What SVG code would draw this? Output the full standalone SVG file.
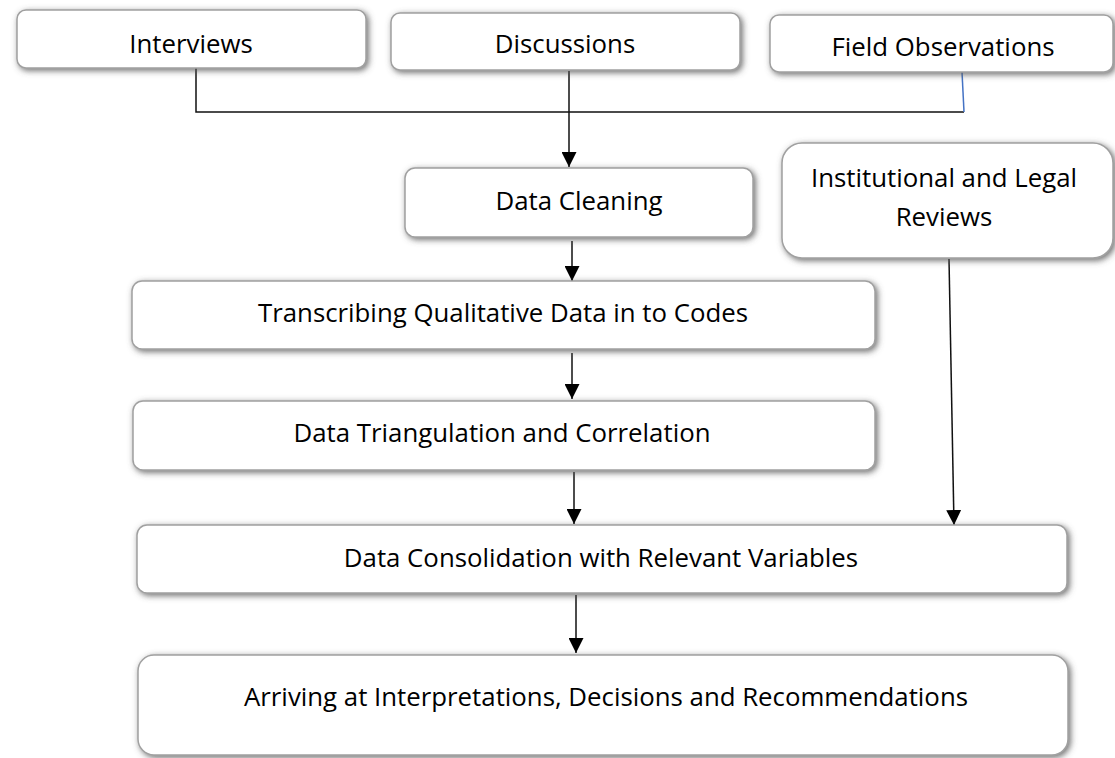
<svg xmlns="http://www.w3.org/2000/svg" width="1115" height="758" viewBox="0 0 1115 758">
<style>
.box{fill:#ffffff;stroke:#a0a0a0;stroke-width:1.5;filter:url(#sh)}
.t{font-family:"Open Sans","Liberation Sans",sans-serif;font-size:25.8px;fill:#000;text-anchor:middle}
.ln{stroke:#111;stroke-width:1.5;fill:none}
</style>
<defs>
<filter id="sh" x="-10%" y="-30%" width="120%" height="160%">
<feDropShadow dx="2" dy="2" stdDeviation="3" flood-color="#555" flood-opacity="0.85"/>
</filter>
<marker id="ah" viewBox="0 0 10 10" refX="10" refY="5" markerWidth="15" markerHeight="15" markerUnits="userSpaceOnUse" orient="auto">
<path d="M0,0 L10,5 L0,10 z" fill="#000"/>
</marker>
</defs>
<rect width="1115" height="758" fill="#fff"/>
<g id="connectors">
<polyline class="ln" points="196,68 196,112 964,112"/>
<line x1="962" y1="72" x2="964" y2="112" stroke="#4472c4" stroke-width="1.5"/>
<line class="ln" x1="569" y1="71" x2="569" y2="167" marker-end="url(#ah)"/>
<line class="ln" x1="572" y1="241" x2="572" y2="281" marker-end="url(#ah)"/>
<line class="ln" x1="572" y1="353" x2="572" y2="399" marker-end="url(#ah)"/>
<line class="ln" x1="574" y1="472" x2="574" y2="524" marker-end="url(#ah)"/>
<line class="ln" x1="576" y1="595" x2="576" y2="653" marker-end="url(#ah)"/>
<line class="ln" x1="949" y1="259" x2="954" y2="525" marker-end="url(#ah)"/>
</g>
<g id="interviews"><rect class="box" x="17" y="10" width="349" height="58" rx="9"/><text class="t" x="191" y="53">Interviews</text></g>
<g id="discussions"><rect class="box" x="391" y="13" width="349" height="57" rx="9"/><text class="t" x="565" y="53">Discussions</text></g>
<g id="field-observations"><rect class="box" x="770" y="15" width="343" height="57" rx="9"/><text class="t" x="943" y="56">Field Observations</text></g>
<g id="data-cleaning"><rect class="box" x="405" y="168" width="348" height="69" rx="10"/><text class="t" x="579" y="210">Data Cleaning</text></g>
<g id="institutional"><rect class="box" x="782" y="143" width="331" height="115" rx="20"/><text class="t" x="944" y="187">Institutional and Legal</text><text class="t" x="944" y="226">Reviews</text></g>
<g id="transcribing"><rect class="box" x="132" y="281" width="743" height="68" rx="10"/><text class="t" x="503" y="322">Transcribing Qualitative Data in to Codes</text></g>
<g id="triangulation"><rect class="box" x="133" y="401" width="742" height="69" rx="10"/><text class="t" x="502" y="442">Data Triangulation and Correlation</text></g>
<g id="consolidation"><rect class="box" x="137" y="525" width="930" height="68" rx="10"/><text class="t" x="601" y="567">Data Consolidation with Relevant Variables</text></g>
<g id="arriving"><rect class="box" x="138" y="655" width="930" height="100" rx="16"/><text class="t" x="606" y="706">Arriving at Interpretations, Decisions and Recommendations</text></g>
</svg>
